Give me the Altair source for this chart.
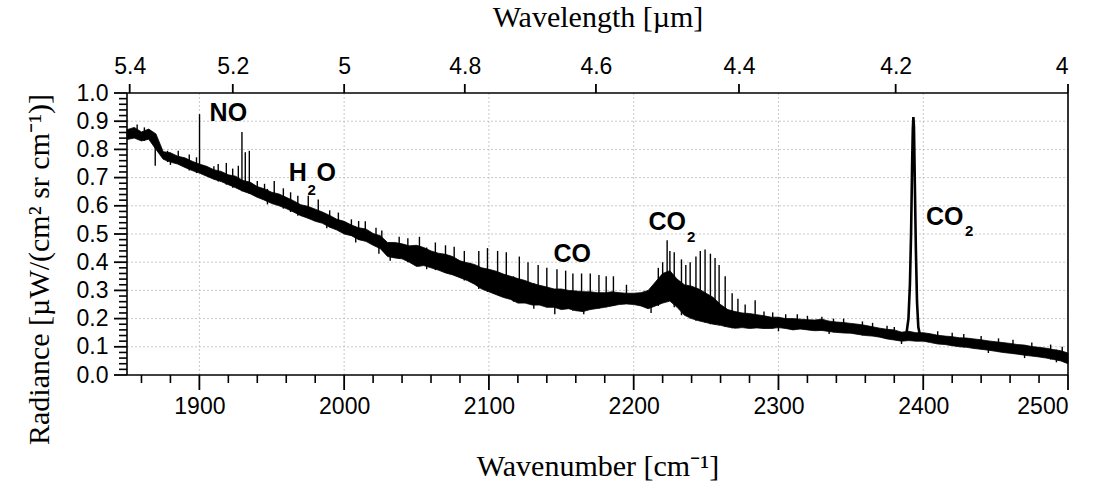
import altair as alt
import pandas as pd

# ---------------- data ----------------
# continuum band (dense noise) on a 5 cm-1 grid, 1850 ... 2500
band_lo = [
    0.835, 0.840, 0.830, 0.836, 0.800, 0.765, 0.755, 0.748, 0.736, 0.725,
    0.716, 0.705, 0.694, 0.686, 0.675, 0.664, 0.652, 0.643, 0.630, 0.620,
    0.608, 0.600, 0.590, 0.578, 0.565, 0.556, 0.545, 0.538, 0.524, 0.514,
    0.500, 0.494, 0.480, 0.474, 0.460, 0.448, 0.420, 0.415, 0.412, 0.400,
    0.385, 0.388, 0.380, 0.372, 0.362, 0.355, 0.345, 0.335, 0.322, 0.305,
    0.295, 0.285, 0.275, 0.268, 0.255, 0.255, 0.248, 0.248, 0.240, 0.240,
    0.232, 0.235, 0.228, 0.225, 0.232, 0.236, 0.240, 0.245, 0.250, 0.252,
    0.250, 0.245, 0.235, 0.245, 0.255, 0.262, 0.240, 0.212, 0.200, 0.192,
    0.186, 0.180, 0.176, 0.170, 0.166, 0.168, 0.165, 0.167, 0.165, 0.165,
    0.168, 0.165, 0.160, 0.163, 0.160, 0.157, 0.158, 0.154, 0.151, 0.149,
    0.148, 0.144, 0.140, 0.138, 0.134, 0.128, 0.124, 0.120, 0.122, 0.120,
    0.120, 0.115, 0.110, 0.108, 0.104, 0.100, 0.098, 0.094, 0.091, 0.088,
    0.084, 0.080, 0.077, 0.074, 0.070, 0.067, 0.064, 0.060, 0.055, 0.050,
    0.040,
]
band_hi = [
    0.870, 0.878, 0.862, 0.872, 0.855, 0.792, 0.788, 0.776, 0.770, 0.758,
    0.748, 0.740, 0.728, 0.722, 0.710, 0.705, 0.690, 0.684, 0.668, 0.660,
    0.648, 0.642, 0.630, 0.618, 0.604, 0.598, 0.588, 0.578, 0.566, 0.552,
    0.545, 0.532, 0.522, 0.518, 0.502, 0.494, 0.470, 0.470, 0.465, 0.458,
    0.460, 0.452, 0.440, 0.432, 0.428, 0.420, 0.405, 0.398, 0.392, 0.380,
    0.375, 0.368, 0.358, 0.350, 0.342, 0.335, 0.325, 0.318, 0.312, 0.305,
    0.305, 0.300, 0.298, 0.295, 0.295, 0.292, 0.292, 0.295, 0.292, 0.290,
    0.290, 0.292, 0.300, 0.330, 0.360, 0.370, 0.340, 0.320, 0.315, 0.305,
    0.290, 0.275, 0.250, 0.232, 0.225, 0.220, 0.218, 0.214, 0.210, 0.205,
    0.205, 0.200, 0.200, 0.198, 0.196, 0.195, 0.198, 0.191, 0.188, 0.186,
    0.183, 0.180, 0.176, 0.171, 0.166, 0.162, 0.160, 0.152, 0.155, 0.150,
    0.150, 0.146, 0.141, 0.138, 0.136, 0.132, 0.131, 0.128, 0.125, 0.121,
    0.118, 0.115, 0.112, 0.108, 0.106, 0.101, 0.098, 0.095, 0.090, 0.086,
    0.078,
]
# narrow emission lines (and dips) sticking out of the band
spike_wn = [1857.0, 1862.0, 1869.5, 1878.0, 1880.0, 1885.4, 1893.0, 1898.0,
            1900.1, 1910.0, 1913.0, 1918.6, 1923.0, 1926.9, 1929.4, 1931.7,
            1934.5, 1940.0, 1945.0, 1947.0, 1951.7, 1958.0, 1963.0, 1968.0,
            1975.2, 1982.1, 1988.0, 1990.0, 1996.0, 2005.0, 2008.0, 2010.0,
            2014.6, 2022.0, 2024.0, 2026.0, 2031.8,
            2038.0, 2044.0, 2052.0, 2057.0, 2063.0, 2070.0, 2076.0, 2083.0,
            2087.0, 2093.0, 2099.0, 2103.0, 2106.0, 2112.0, 2117.0, 2121.0,
            2127.0, 2131.0, 2134.0, 2140.0, 2145.5, 2147.0, 2153.0, 2158.0,
            2164.0, 2165.5, 2170.0, 2176.0, 2181.0, 2186.0, 2195.0, 2212.0,
            2217.0, 2220.0, 2223.1, 2225.0, 2228.0, 2233.0, 2236.0, 2239.0,
            2243.0, 2246.0, 2249.3, 2253.0, 2256.2, 2259.0, 2263.2, 2268.0,
            2272.0, 2277.0, 2283.9, 2290.0, 2296.0, 2300.0, 2305.0, 2313.0,
            2320.0, 2330.0, 2335.0, 2338.0, 2345.0, 2358.0, 2365.0, 2375.0,
            2380.0, 2385.0, 2404.0, 2410.0, 2420.0, 2428.0, 2440.0, 2445.0,
            2452.0, 2462.0, 2470.0, 2475.0, 2488.0, 2492.0, 2496.0]
spike_val = [0.888, 0.878, 0.742, 0.795, 0.745, 0.795, 0.782, 0.772,
             0.925, 0.740, 0.748, 0.752, 0.732, 0.742, 0.862, 0.790,
             0.795, 0.688, 0.678, 0.605, 0.688, 0.662, 0.648, 0.636,
             0.636, 0.622, 0.520, 0.584, 0.576, 0.552, 0.470, 0.546,
             0.545, 0.522, 0.430, 0.512, 0.405,
             0.490, 0.485, 0.490, 0.375, 0.470, 0.460, 0.455, 0.440,
             0.330, 0.440, 0.450, 0.290, 0.440, 0.435, 0.260, 0.420,
             0.400, 0.235, 0.390, 0.380, 0.215, 0.375, 0.370, 0.360,
             0.360, 0.215, 0.360, 0.355, 0.350, 0.350, 0.320, 0.220,
             0.380, 0.400, 0.478, 0.440, 0.435, 0.410, 0.390, 0.400,
             0.420, 0.440, 0.445, 0.430, 0.415, 0.390, 0.350, 0.290,
             0.270, 0.250, 0.265, 0.225, 0.222, 0.155, 0.215, 0.215,
             0.210, 0.207, 0.145, 0.200, 0.200, 0.190, 0.185, 0.175,
             0.170, 0.110, 0.145, 0.155, 0.150, 0.145, 0.138, 0.078,
             0.130, 0.125, 0.060, 0.115, 0.108, 0.045, 0.100]
# strong CO2 band near 2393 cm-1
peak_wn = [2386.5, 2388.5, 2389.8, 2390.8, 2391.6, 2392.3, 2392.8, 2393.2,
           2393.6, 2394.2, 2394.9, 2395.7, 2396.6, 2397.8]
peak_val = [0.130, 0.150, 0.200, 0.320, 0.500, 0.740, 0.870, 0.915,
            0.880, 0.680, 0.450, 0.260, 0.170, 0.140]

# annotations
lab_text = ["NO", "H", "O", "CO", "CO", "CO"]
lab_wn = [1920.0, 1968.0, 1987.6, 2157.6, 2223.2, 2414.8]
lab_val = [0.929, 0.715, 0.715, 0.430, 0.544, 0.562]
sub_text = ["2", "2", "2"]
sub_wn = [1977.6, 2239.7, 2431.7]
sub_val = [0.655, 0.488, 0.512]

# axis ticks
wn_major = [1900, 2000, 2100, 2200, 2300, 2400, 2500]
wn_minor = [v for v in range(1860, 2500, 20) if v % 100 != 0]
wl_ticks = [5.4, 5.2, 5.0, 4.8, 4.6, 4.4, 4.2, 4.0]
y_major = [round(i * 0.1, 1) for i in range(11)]
y_minor = [round(i * 0.02, 2) for i in range(51) if i % 5 != 0]

# ---------------- tables ----------------
grid_wn = [1850 + 5 * i for i in range(len(band_lo))]
band = pd.DataFrame({"wn": grid_wn, "lo": band_lo, "hi": band_hi[:len(band_lo)]})

rows = []
for w, v in zip(spike_wn, spike_val):
    k = min(range(len(grid_wn)), key=lambda j: abs(grid_wn[j] - w))
    base = band_lo[k] if v > band_hi[k] else band_hi[k]
    rows.append((w, v, base))
spikes = pd.DataFrame(rows, columns=["wn", "val", "base"])
peak = pd.DataFrame({"wn": peak_wn, "val": peak_val})

labels = pd.DataFrame({"wn": lab_wn, "val": lab_val, "t": lab_text})
subs = pd.DataFrame({"wn": sub_wn, "val": sub_val, "t": sub_text})
xmajor_df = pd.DataFrame({"wn": wn_major})
xgrid_df = pd.DataFrame({"wn": wn_major[:-1]})
xminor_df = pd.DataFrame({"wn": wn_minor})
top_df = pd.DataFrame({"wn": [10000 / w for w in wl_ticks]})
ymajor_df = pd.DataFrame({"val": y_major})
ygrid_df = pd.DataFrame({"val": y_major[1:-1]})
yminor_df = pd.DataFrame({"val": y_minor})
one = pd.DataFrame({"k": [0]})

# ---------------- layout ----------------
# the view includes room for the tick marks; the scales map into the inner plot
TL, TT, TB = 13, 9, 15          # tick lengths left / top / bottom
PW, PH = 941, 282               # data area
VW, VH = TL + PW + 2, TT + PH + TB + 1
PAD_L, PAD_T = 127 - TL, 93 - TT

SANS = "Liberation Sans"
SERIF = "Liberation Serif"
INK = "#000000"
GRID = "#c8c8c8"

xscale = alt.Scale(domain=[1850, 2500], range=[TL, TL + PW], nice=False, zero=False)
yscale = alt.Scale(domain=[0, 1], range=[TT + PH, TT], nice=False, zero=False)

bottom_axis = alt.Axis(
    orient="bottom", values=wn_major, format="d", grid=False, ticks=False,
    domain=False, labelFont=SANS, labelFontSize=23, labelColor=INK,
    labelPadding=4, title="Wavenumber [cm⁻¹]", titleFont=SERIF,
    titleFontSize=30, titleFontWeight="normal", titleColor=INK, titleY=75,
    titleBaseline="middle",
)
top_axis = alt.Axis(
    orient="top", values=[10000 / w for w in wl_ticks], grid=False, ticks=False,
    domain=False, labelExpr="format(10000/datum.value, '~g')", labelFont=SANS,
    labelFontSize=23, labelColor=INK, labelPadding=6, title="Wavelength [µm]",
    titleFont=SERIF, titleFontSize=30, titleFontWeight="normal",
    titleColor=INK, titleY=-67, titleBaseline="middle",
)
left_axis = alt.Axis(
    orient="left", values=y_major, format=".1f", grid=False, ticks=False,
    domain=False, labelFont=SANS, labelFontSize=23, labelColor=INK,
    labelPadding=6, title="Radiance [µW/(cm² sr cm⁻¹)]", titleFont=SERIF,
    titleFontSize=30, titleFontWeight="normal", titleColor=INK, titleX=-75,
    titleY=185, titleAngle=270, titleBaseline="middle", titleAlign="center",
)

def X(field=None, datum=None, axis=None):
    if datum is not None:
        return alt.X(datum=datum, type="quantitative", scale=xscale, axis=axis)
    return alt.X(field, type="quantitative", scale=xscale, axis=axis)

def Y(field=None, datum=None, axis=None):
    if datum is not None:
        return alt.Y(datum=datum, type="quantitative", scale=yscale, axis=axis)
    return alt.Y(field, type="quantitative", scale=yscale, axis=axis)

# grid
xgrid = alt.Chart(xgrid_df).mark_rule(color=GRID, strokeWidth=1, strokeDash=[2, 2]).encode(
    x=X("wn"), y=Y(datum=0), y2=alt.Y2(datum=1))
ygrid = alt.Chart(ygrid_df).mark_rule(color=GRID, strokeWidth=1, strokeDash=[2, 2]).encode(
    y=Y("val"), x=X(datum=1850), x2=alt.X2(datum=2500))

# spectrum
band_layer = alt.Chart(band).mark_area(color=INK, stroke=INK, strokeWidth=0.8).encode(
    x=X("wn", axis=bottom_axis), y=Y("lo", axis=left_axis), y2="hi:Q")
spike_layer = alt.Chart(spikes).mark_rule(color=INK, strokeWidth=1.4).encode(
    x=X("wn"), y=Y("val"), y2="base:Q")
peak_layer = alt.Chart(peak).mark_line(color=INK, strokeWidth=2.6).encode(
    x=X("wn"), y=Y("val"))

# frame
frame_l = alt.Chart(one).mark_rule(color=INK, strokeWidth=1.6).encode(
    x=X(datum=1850), y=Y(datum=0), y2=alt.Y2(datum=1))
frame_r = alt.Chart(one).mark_rule(color=INK, strokeWidth=1.6).encode(
    x=X(datum=2500), y=Y(datum=0), y2=alt.Y2(datum=1))
frame_b = alt.Chart(one).mark_rule(color=INK, strokeWidth=1.6).encode(
    y=Y(datum=0), x=X(datum=1850), x2=alt.X2(datum=2500))
frame_t = alt.Chart(one).mark_rule(color=INK, strokeWidth=1.6).encode(
    y=Y(datum=1), x=X(datum=1850), x2=alt.X2(datum=2500))

# tick marks
xmaj_t = alt.Chart(xmajor_df).mark_rule(color=INK, strokeWidth=1.8).encode(
    x=X("wn"), y=Y(datum=0), y2=alt.value(TT + PH + TB))
xmin_t = alt.Chart(xminor_df).mark_rule(color=INK, strokeWidth=1.6).encode(
    x=X("wn"), y=Y(datum=0), y2=alt.value(TT + PH + 8))
top_t = alt.Chart(top_df).mark_rule(color=INK, strokeWidth=1.8).encode(
    x=X("wn", axis=top_axis), y=Y(datum=1), y2=alt.value(0))
ymaj_t = alt.Chart(ymajor_df).mark_rule(color=INK, strokeWidth=1.8).encode(
    y=Y("val"), x=X(datum=1850), x2=alt.value(0))
ymin_t = alt.Chart(yminor_df).mark_rule(color=INK, strokeWidth=1.6).encode(
    y=Y("val"), x=X(datum=1850), x2=alt.value(TL - 8))

# annotations
text_main = alt.Chart(labels).mark_text(
    font=SANS, fontSize=25, fontWeight="bold", color=INK,
    align="center", baseline="middle",
).encode(x=X("wn"), y=Y("val"), text="t:N")
text_sub = alt.Chart(subs).mark_text(
    font=SANS, fontSize=15, fontWeight="bold", color=INK,
    align="center", baseline="middle",
).encode(x=X("wn"), y=Y("val"), text="t:N")

chart = alt.layer(
    xgrid, ygrid, band_layer, spike_layer, peak_layer,
    frame_l, frame_r, frame_b, frame_t,
    xmaj_t, xmin_t, top_t, ymaj_t, ymin_t,
    text_main, text_sub,
).resolve_axis(x="independent", y="independent").properties(
    width=VW, height=VH,
    autosize=alt.AutoSizeParams(type="none"),
    padding={"left": PAD_L, "top": PAD_T,
             "right": 1113 - PAD_L - VW, "bottom": 488 - PAD_T - VH},
).configure_view(stroke="transparent")

chart.save("out.html", embed_options={"renderer": "svg", "actions": False})
